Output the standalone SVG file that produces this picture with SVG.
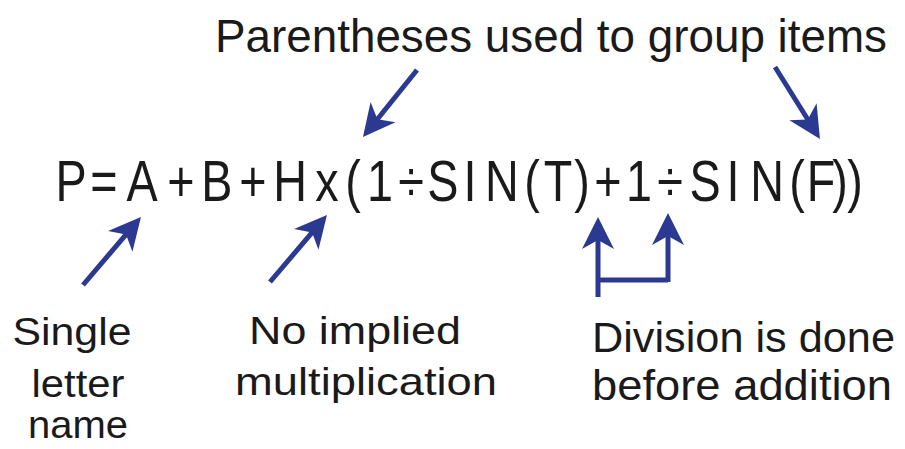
<svg xmlns="http://www.w3.org/2000/svg" width="905" height="449" viewBox="0 0 905 449">
  <style>
    .t { font-family: "Liberation Sans", Arial, sans-serif; fill: #1a1a1a; }
    .c { fill: none; stroke: #2b3990; stroke-width: 5; }
  </style>
  <defs>
    <marker id="head" markerUnits="userSpaceOnUse" viewBox="-34 -18 36 36" refX="-12" refY="0" markerWidth="36" markerHeight="36" orient="auto" overflow="visible">
      <path d="M0,0 L-32,-16 L-23,0 L-32,16 Z" fill="#2b3990"/>
    </marker>
  </defs>
  <rect width="905" height="449" fill="#ffffff"/>

  <g id="title">
    <text class="t" x="215" y="52" font-size="47" textLength="672" lengthAdjust="spacingAndGlyphs">Parentheses used to group items</text>
  </g>

  <g id="formula" transform="scale(0.82,1)">
    <text class="t" font-size="57" y="201" text-anchor="middle"
      x="86.6 126.8 173.2 220.7 264.6 308.5 353.7 398.8 430.5 463.4 501.2 540.2 573.2 612.2 648.8 680.5 709.8 741.5 779.3 817.1 859.8 893.9 935.4 972.0 1001.2 1024.4 1042.7">P=A+B+Hx(1÷SIN(T)+1÷SIN(F))</text>
  </g>

  <g id="label-single">
    <text class="t" font-size="39" text-anchor="middle" x="72" y="345" textLength="119" lengthAdjust="spacingAndGlyphs">Single</text>
    <text class="t" font-size="39" text-anchor="middle" x="78" y="397" textLength="93" lengthAdjust="spacingAndGlyphs">letter</text>
    <text class="t" font-size="39" text-anchor="middle" x="78" y="438" textLength="100" lengthAdjust="spacingAndGlyphs">name</text>
  </g>

  <g id="label-implied">
    <text class="t" font-size="39" text-anchor="middle" x="355" y="344" textLength="212" lengthAdjust="spacingAndGlyphs">No implied</text>
    <text class="t" font-size="39" text-anchor="middle" x="366" y="395" textLength="262" lengthAdjust="spacingAndGlyphs">multiplication</text>
  </g>

  <g id="label-division">
    <text class="t" font-size="42" x="592" y="352" textLength="303" lengthAdjust="spacingAndGlyphs">Division is done</text>
    <text class="t" font-size="42" x="592" y="400" textLength="300" lengthAdjust="spacingAndGlyphs">before addition</text>
  </g>

  <g id="connectors">
    <line class="c" x1="417" y1="70" x2="370.5" y2="127.7" marker-end="url(#head)"/>
    <line class="c" x1="775" y1="67" x2="813.6" y2="128.8" marker-end="url(#head)"/>
    <line class="c" x1="83" y1="285" x2="133.2" y2="226.1" marker-end="url(#head)"/>
    <line class="c" x1="270" y1="282" x2="319.2" y2="224.1" marker-end="url(#head)"/>
    <line class="c" x1="598" y1="297" x2="598" y2="229" marker-end="url(#head)"/>
    <line class="c" x1="668" y1="282" x2="668" y2="225" marker-end="url(#head)"/>
    <line class="c" x1="598" y1="280" x2="668" y2="280" stroke-width="3"/>
  </g>
</svg>
